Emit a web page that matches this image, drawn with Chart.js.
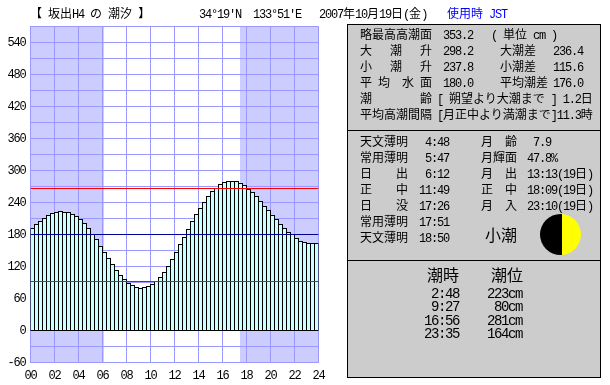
<!DOCTYPE html>
<html><head><meta charset="utf-8">
<script src="https://cdn.jsdelivr.net/npm/chart.js@4"></script>
<style>
html,body{margin:0;padding:0;background:#fff;width:610px;height:385px;overflow:hidden}
#c{position:absolute;left:0;top:0}
.t{position:absolute;white-space:pre;font-family:"Noto Sans CJK JP",sans-serif;color:#000}
.a{font-family:"Liberation Mono",monospace}
.p{position:absolute;left:347px;width:252px;background:#ccc;border:1px solid #000}
</style></head><body>
<canvas id="c" width="610" height="385"></canvas>
<script>
const hours=[0.167,0.5,0.833,1.167,1.5,1.833,2.167,2.5,2.833,3.167,3.5,3.833,4.167,4.5,4.833,5.167,5.5,5.833,6.167,6.5,6.833,7.167,7.5,7.833,8.167,8.5,8.833,9.167,9.5,9.833,10.167,10.5,10.833,11.167,11.5,11.833,12.167,12.5,12.833,13.167,13.5,13.833,14.167,14.5,14.833,15.167,15.5,15.833,16.167,16.5,16.833,17.167,17.5,17.833,18.167,18.5,18.833,19.167,19.5,19.833,20.167,20.5,20.833,21.167,21.5,21.833,22.167,22.5,22.833,23.167,23.5,23.833];
const tide=[192.2,199.7,205.3,210.9,216.6,220.3,222.2,224.1,222.2,222.2,218.4,214.7,209.1,201.6,192.2,180.9,171.6,158.4,147.2,135.9,124.7,113.4,104.1,96.6,89.1,85.3,81.6,79.7,81.6,83.4,87.2,92.8,100.3,109.7,120.9,134.1,147.2,162.2,175.3,190.3,205.3,218.4,229.7,240.9,252.2,261.6,267.2,274.7,278.4,280.3,280.3,280.3,276.6,272.8,265.3,259.7,252.2,242.8,233.4,225.9,216.6,209.1,199.7,192.2,184.7,180.9,173.4,167.8,165.9,164.1,164.1,164.1];
const highLevel=266.25, meanLevel=180, lowLevel=91.875;
const lineEnds=[0,24];
const nightSpans=[[0,6.15],[17.43,24]];
const titleTexts=[["【 坂出H4 の 潮汐 】",30,"#000"],["34°19'N",199,"#000"],["133°51'E",253,"#000"],["2007年10月19日(金)",319,"#000"],["使用時 JST",447,"#00f"]];
const panel1=[["略最高高潮面",360,27],["353.2",443,27],["( 単位 cm )",491,27],
["大   潮   升",360,43],["298.2",443,43],["大潮差",500,43],["236.4",553,43],
["小   潮   升",360,59],["237.8",443,59],["小潮差",500,59],["115.6",553,59],
["平 均  水 面",360,75],["180.0",443,75],["平均潮差",500,75],["176.0",553,75],
["潮　　　　齢",360,91],["[ 朔望より大潮まで ] 1.2日",437,91],
["平均高潮間隔",360,107],["[月正中より満潮まで]11.3時",437,107]];
const panel2=[["天文薄明",360,134],["4:48",425,134],["月　齢",481,134],["7.9",533,134],
["常用薄明",360,150],["5:47",425,150],["月輝面",481,150],["47.8%",527,150],
["日　　出",360,166],["6:12",425,166],["月　出",481,166],["13:13(19日)",527,166],
["正　　中",360,182],["11:49",419,182],["正　中",481,182],["18:09(19日)",527,182],
["日　　没",360,198],["17:26",419,198],["月　入",481,198],["23:10(19日)",527,198],
["常用薄明",360,214],["17:51",419,214],
["天文薄明",360,230],["18:50",419,230]];
const tideTimes=["2:48","9:27","16:56","23:35"];
const tideHeights=["223cm","80cm","281cm","164cm"];
function addText(s,x,y,size,col){
 const d=document.createElement('div');d.className='t';
 size=size||12;d.style.cssText+=`left:${x}px;top:${y}px;font-size:${size}px;line-height:${size+2}px;color:${col||'#000'}`;
 (s.match(/[\x20-\x7e°]+|[^\x20-\x7e°]+/g)||[]).forEach(run=>{
  const sp=document.createElement('span');sp.textContent=run;
  if(/^[\x20-\x7e°]/.test(run)){sp.className='a';sp.style.letterSpacing=(-0.1*size)+'px';}
  d.appendChild(sp);});
 document.body.appendChild(d);return d;}
function addPanel(t,h){const d=document.createElement('div');d.className='p';d.style.top=t+'px';d.style.height=h+'px';document.body.appendChild(d);}
addPanel(24,105);addPanel(130,129);addPanel(260,116);
titleTexts.forEach(a=>addText(a[0],a[1],6,12,a[2]));
panel1.forEach(a=>addText(a[0],a[1],a[2]));
panel2.forEach(a=>addText(a[0],a[1],a[2]));
addText("小潮",485,225,16);
const m=document.createElement('div');m.style.cssText="position:absolute;left:540px;top:214px;width:41px;height:41px;border-radius:50%;background:linear-gradient(90deg,#000 0,#000 53%,#ff0 53%,#ff0 100%)";document.body.appendChild(m);
addText("潮時",427,265,16);addText("潮位",491,265,16);
tideTimes.forEach((s,i)=>addText(s,459-s.length*7,284+Math.round(13.3*i),14));
tideHeights.forEach((s,i)=>addText(s,522-s.length*7,284+Math.round(13.3*i),14));
const shade={id:'shade',
 afterDatasetsUpdate(ch){ch.data.datasets.forEach((d,i)=>{if(d.type==='bar')ch.getDatasetMeta(i).data.forEach(el=>{el.x=Math.round(el.x*2)/2;el.y=Math.round(el.y);el.base=Math.floor(el.base)+1;});});},
 beforeDraw(ch){const {ctx,chartArea:a,scales:{x}}=ch;ctx.letterSpacing='-1.2px';ctx.save();ctx.fillStyle='#fff';ctx.fillRect(a.left,a.top,a.width,a.height);ctx.fillStyle='#ccccff';nightSpans.forEach(s=>{const l=Math.round(x.getPixelForValue(s[0])),r=Math.round(x.getPixelForValue(s[1]));ctx.fillRect(l,a.top,r-l,a.height);});ctx.restore();}};
const lineDs=(v,c)=>({type:'line',data:lineEnds.map(h=>({x:h,y:v})),borderColor:c,borderWidth:1,pointRadius:0,order:0});
const tickFont={family:'"Liberation Mono"',size:12};
new Chart(document.getElementById('c'),{type:'bar',plugins:[shade],data:{datasets:[
 lineDs(highLevel,'#ff0000'),lineDs(meanLevel,'#000099'),lineDs(lowLevel,'#ff0000'),
 {type:'bar',data:hours.map((h,i)=>({x:h,y:tide[i]})),backgroundColor:'#ccffff',borderColor:'#000',borderWidth:1,borderSkipped:false,inflateAmount:0,barThickness:5,order:1}
]},options:{responsive:false,animation:false,devicePixelRatio:1,
 layout:{padding:{left:0,top:26.5,right:291.5,bottom:0}},
 plugins:{legend:{display:false},tooltip:{enabled:false}},
 scales:{
  x:{type:'linear',offset:false,min:0,max:24,afterFit(s){s.height=22.5},grid:{offset:false,color:'#9999ff',lineWidth:1,drawTicks:false},border:{color:'#9999ff'},
     ticks:{stepSize:2,autoSkip:false,maxRotation:0,padding:6,color:'#000',font:tickFont,callback:v=>String(v).padStart(2,'0')}},
  y:{min:-60,max:570,afterFit(s){s.width=30.5},grid:{color:'#9999ff',lineWidth:1,drawTicks:false},border:{color:'#9999ff'},
     ticks:{stepSize:30,autoSkip:false,padding:5,color:'#000',font:tickFont,callback:v=>v%60===0?String(v):''}}
 }}});
</script></body></html>
